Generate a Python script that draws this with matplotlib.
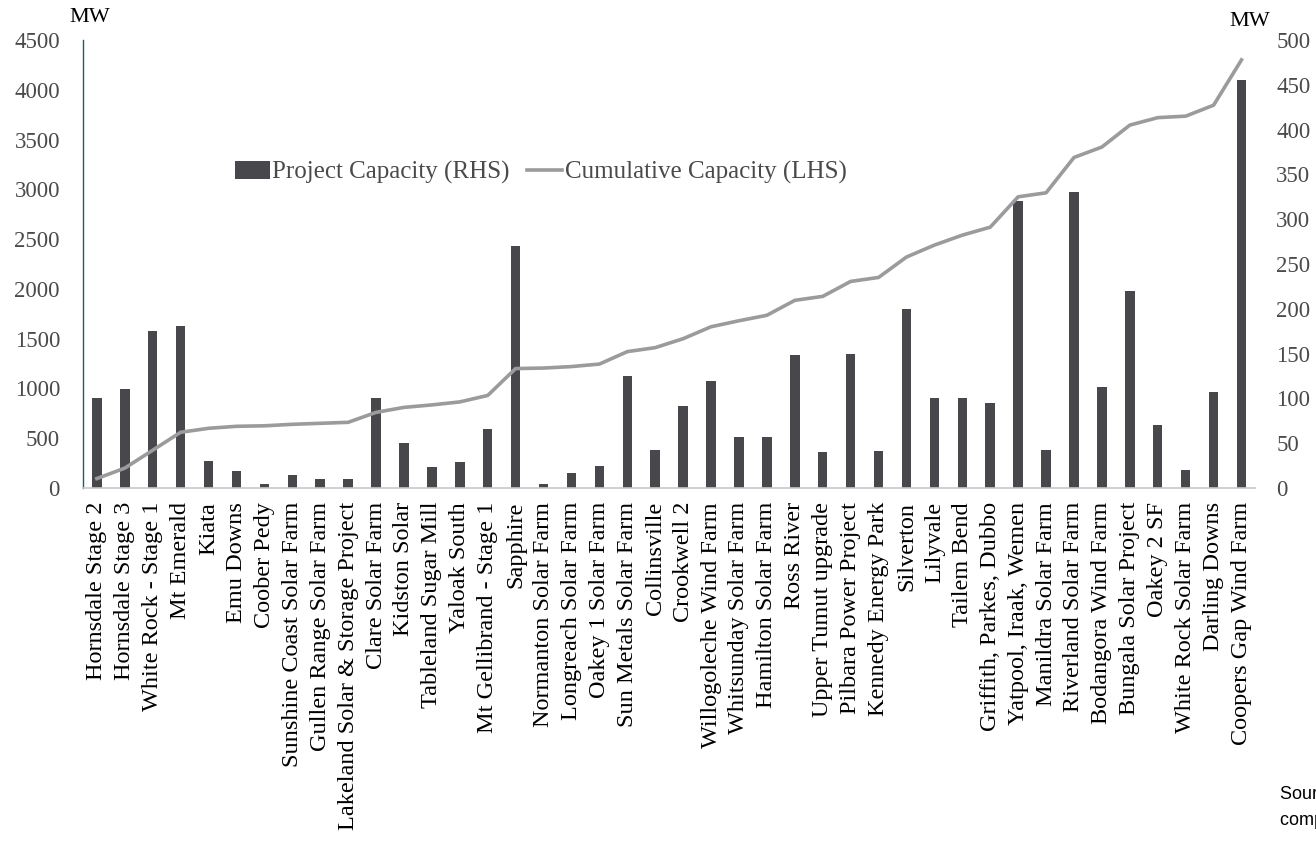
import matplotlib
matplotlib.use("Agg")
import matplotlib.pyplot as plt

projects = [
    "Hornsdale Stage 2", "Hornsdale Stage 3", "White Rock - Stage 1", "Mt Emerald",
    "Kiata", "Emu Downs", "Coober Pedy", "Sunshine Coast Solar Farm",
    "Gullen Range Solar Farm", "Lakeland Solar & Storage Project", "Clare Solar Farm",
    "Kidston Solar", "Tableland Sugar Mill", "Yaloak South", "Mt Gellibrand - Stage 1",
    "Sapphire", "Normanton Solar Farm", "Longreach Solar Farm", "Oakey 1 Solar Farm",
    "Sun Metals Solar Farm", "Collinsville", "Crookwell 2", "Willogoleche Wind Farm",
    "Whitsunday Solar Farm", "Hamilton Solar Farm", "Ross River", "Upper Tumut upgrade",
    "Pilbara Power Project", "Kennedy Energy Park", "Silverton", "Lilyvale",
    "Tailem Bend", "Griffith, Parkes, Dubbo", "Yatpool, Iraak, Wemen",
    "Manildra Solar Farm", "Riverland Solar Farm", "Bodangora Wind Farm",
    "Bungala Solar Project", "Oakey 2 SF", "White Rock Solar Farm", "Darling Downs",
    "Coopers Gap Wind Farm",
]

# project capacity, MW (right axis)
capacity = [
    101, 110, 175, 181, 30, 19, 5, 15, 10, 10, 100,
    50, 24, 29, 66, 270, 5, 17, 25, 125, 42, 91, 119,
    57, 57, 148, 40, 150, 41, 200, 100, 100, 95, 320,
    42, 330, 113, 220, 70, 20, 107, 455,
]

# cumulative capacity, MW (left axis)
cumulative = [
    95, 200, 380, 560, 600, 620, 625, 640, 650, 660, 760,
    810, 835, 865, 930, 1200, 1205, 1220, 1245, 1370, 1410, 1500, 1620,
    1680, 1735, 1885, 1925, 2075, 2115, 2320, 2440, 2540, 2620, 2925,
    2965, 3320, 3425, 3645, 3720, 3735, 3845, 4300,
]

serif = "Liberation Serif"
tick_col = "#4a4a4a"
bar_col = "#48484c"
line_col = "#9b9b9b"

fig = plt.figure(figsize=(13.16, 8.47), dpi=100)
ax = fig.add_axes([0.063, 0.4238, 0.891, 0.529])
ax2 = ax.twinx()

x = list(range(len(projects)))
ax.plot(x, cumulative, color=line_col, lw=2.6, zorder=3,
        label="Cumulative Capacity (LHS)")
ax2.bar(x, capacity, width=0.34, color=bar_col, zorder=2,
        label="Project Capacity (RHS)")

# line drawn over the bars
ax.set_zorder(ax2.get_zorder() + 1)
ax.patch.set_visible(False)

ax.set_xlim(-0.5, len(projects) - 0.5)
ax.set_ylim(0, 4500)
ax2.set_ylim(0, 500)
ax.set_yticks(range(0, 4501, 500))
ax2.set_yticks(range(0, 501, 50))

for a in (ax, ax2):
    for s in ("top", "right", "left", "bottom"):
        a.spines[s].set_visible(False)
    a.tick_params(axis="y", length=0, labelsize=16.5, labelcolor=tick_col)
    for lab in a.get_yticklabels():
        lab.set_fontfamily(serif)

ax.spines["left"].set_visible(True)
ax.spines["left"].set_color("#1f5a6e")
ax.spines["left"].set_linewidth(1.0)
ax.spines["bottom"].set_visible(True)
ax.spines["bottom"].set_color("#c8c8c8")
ax.spines["bottom"].set_linewidth(1.2)
ax.tick_params(axis="y", pad=16.5)
ax2.tick_params(axis="y", pad=15)

ax.set_xticks(x)
ax.set_xticklabels(projects, rotation=90, fontsize=17.5, fontfamily=serif, color="black")
ax.tick_params(axis="x", length=0, pad=10)

fig.text(0.0685, 0.979, "MW", fontsize=16, fontfamily=serif, ha="center", va="center")
fig.text(0.950, 0.975, "MW", fontsize=16, fontfamily=serif, ha="center", va="center")

h1, l1 = ax2.get_legend_handles_labels()
h2, l2 = ax.get_legend_handles_labels()
leg = fig.legend(h1 + h2, l1 + l2, loc="center", bbox_to_anchor=(0.411, 0.796),
                 ncol=2, frameon=False, handlelength=1.4, handletextpad=0.1,
                 columnspacing=0.7, prop={"family": serif, "size": 18})
for t in leg.get_texts():
    t.set_color(tick_col)

fig.text(0.9725, 0.0567, "Source: AEMO,", fontsize=13,
         fontfamily="Liberation Sans", ha="left", va="baseline")
fig.text(0.9725, 0.026, "company reports", fontsize=13,
         fontfamily="Liberation Sans", ha="left", va="baseline")

fig.savefig("out.png", dpi=100)
